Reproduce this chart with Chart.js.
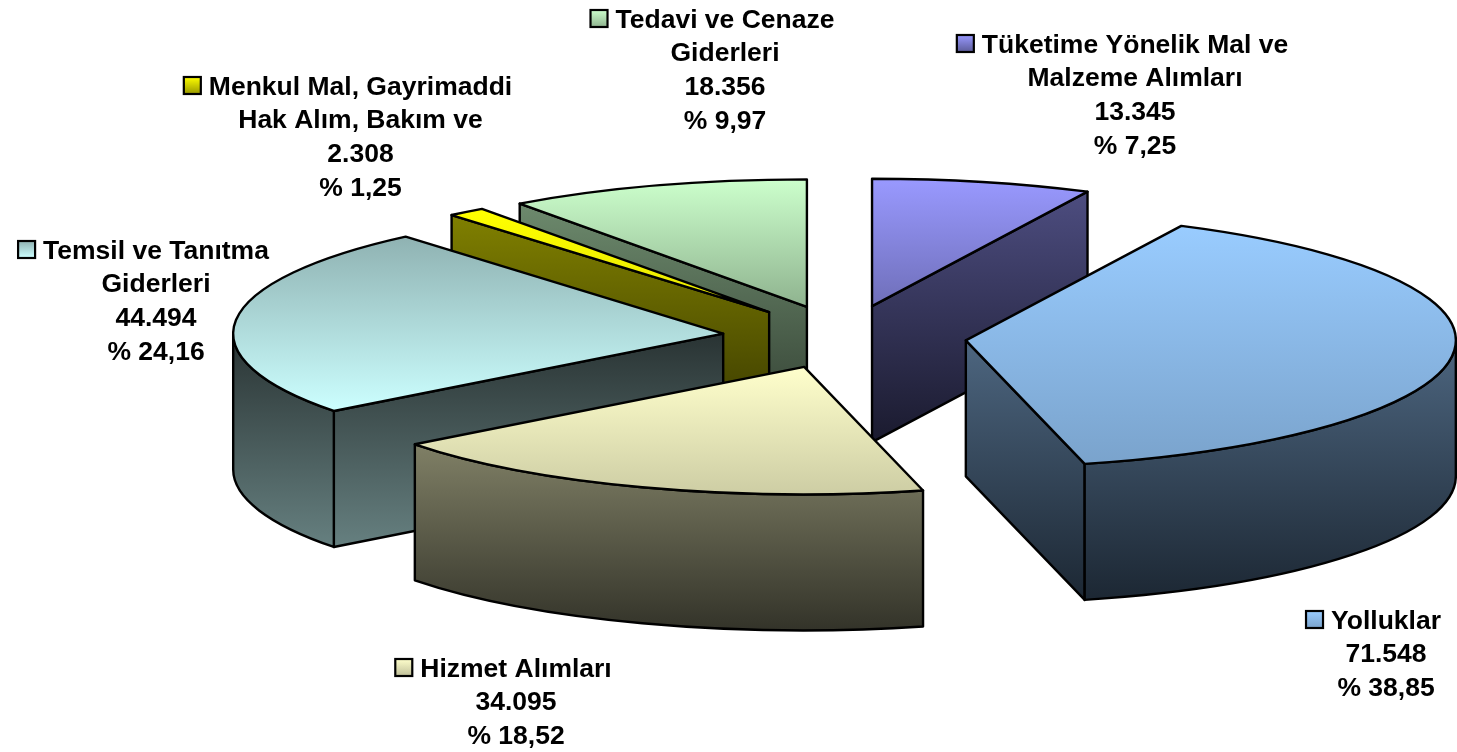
<!DOCTYPE html>
<html lang="tr">
<head>
<meta charset="utf-8">
<title>Gider dağılımı</title>
<script src="https://cdn.jsdelivr.net/npm/chart.js@4"></script>
<style>html,body{margin:0;padding:0;background:#fff}canvas{display:block}</style>
</head>
<body>
<canvas id="c" width="1457" height="752"></canvas>
<script>
// Data
const categoryLines = [
  ["Tüketime Yönelik Mal ve", "Malzeme Alımları"],
  ["Yolluklar"],
  ["Hizmet Alımları"],
  ["Temsil ve Tanıtma", "Giderleri"],
  ["Menkul Mal, Gayrimaddi", "Hak Alım, Bakım ve"],
  ["Tedavi ve Cenaze", "Giderleri"]
];
const values = [13345, 71548, 34095, 44494, 2308, 18356];
const valueLabels = ["13.345", "71.548", "34.095", "44.494", "2.308", "18.356"];
const percentLabels = ["% 7,25", "% 38,85", "% 18,52", "% 24,16", "% 1,25", "% 9,97"];

// Style and layout
const baseColors = ["#9999FF", "#99CCFF", "#FFFFCC", "#CCFFFF", "#FFFF00", "#CCFFCC"];
const topGradients = [
  ["#9999FF", "#6F6FB9"], ["#99CCFF", "#7AA3CC"], ["#FFFFCC", "#CDCDA4"],
  ["#8FB2B2", "#CCFFFF"], ["#FFFF00", "#E6E600"], ["#CCFFCC", "#8FB38F"]
];
const wallGradients = [
  ["#4D4D80", "#1A1A2E"], ["#4D6680", "#1C2733"], ["#808066", "#333329"],
  ["#293333", "#668080"], ["#808000", "#333300"], ["#6D8A6D", "#2E3A2E"]
];
const keyGradients = [
  ["#9999FF", "#5C5C99"], ["#99CCFF", "#7AA3CC"], ["#FFFFCC", "#BFBF99"],
  ["#8FB2B2", "#CCFFFF"], ["#FFFF00", "#999900"], ["#CCFFCC", "#8FB38F"]
];
const paintOrder = [5, 0, 4, 3, 1, 2];
const squash = 0.26, depth = 136, explode = 122, centerY = 337;
const pieRadius = 490;
const strokeWidth = 2.4;
const labelFont = "bold 26.5px 'Liberation Sans', Arial, sans-serif";
const labelLineHeight = 33.8;
const labelAnchors = [
  {x: 1135, y: 52.5}, {x: 1386, y: 628.5}, {x: 516, y: 676.5},
  {x: 156, y: 258.5}, {x: 360.5, y: 94.5}, {x: 725, y: 27.5}
];

function arcGeom(arc) {
  const mid = (arc.startAngle + arc.endAngle) / 2;
  return {
    a: arc.startAngle, b: arc.endAngle, r: arc.outerRadius,
    ex: Math.cos(mid) * explode,
    ey: Math.sin(mid) * explode,
    cx: arc.x + Math.cos(mid) * explode,
    cy: centerY + Math.sin(mid) * explode * squash
  };
}
function yExtent(g) {
  const ys = [g.cy, g.cy + squash * g.r * Math.sin(g.a), g.cy + squash * g.r * Math.sin(g.b)];
  [Math.PI / 2, -Math.PI / 2, Math.PI * 1.5].forEach(t => {
    if (t >= g.a && t <= g.b) ys.push(g.cy + squash * g.r * Math.sin(t));
  });
  return [Math.min(...ys), Math.max(...ys)];
}
function linear(ctx, y0, y1, stops) {
  const grad = ctx.createLinearGradient(0, y0, 0, y1);
  grad.addColorStop(0, stops[0]);
  grad.addColorStop(1, stops[1]);
  return grad;
}
function paintWall(ctx, path, fill) {
  ctx.beginPath();
  path();
  ctx.closePath();
  ctx.fillStyle = fill;
  ctx.fill();
  ctx.stroke();
}
function drawWalls(ctx, g, stops) {
  const ry = g.r * squash;
  const px = t => g.cx + g.r * Math.cos(t);
  const py = t => g.cy + ry * Math.sin(t);
  const planes = [];
  if (Math.cos(g.a) < -1e-6) planes.push(g.a);
  if (Math.cos(g.b) > 1e-6) planes.push(g.b);
  const from = Math.max(g.a, 0), to = Math.min(g.b, Math.PI);
  const ext = yExtent(g);
  const tops = planes.map(py).concat(planes.length ? [g.cy] : []);
  if (to > from) tops.push(py(from), py(to));
  const fill = linear(ctx, Math.min(...tops), ext[1] + depth, stops);
  planes.forEach(t => paintWall(ctx, () => {
    ctx.moveTo(g.cx, g.cy);
    ctx.lineTo(px(t), py(t));
    ctx.lineTo(px(t), py(t) + depth);
    ctx.lineTo(g.cx, g.cy + depth);
  }, fill));
  if (to > from) {
    paintWall(ctx, () => {
      ctx.ellipse(g.cx, g.cy, g.r, ry, 0, from, to, false);
      ctx.lineTo(px(to), py(to) + depth);
      ctx.ellipse(g.cx, g.cy + depth, g.r, ry, 0, to, from, true);
    }, fill);
  }
}
const pie3d = {
  id: 'pie3d',
  beforeDatasetDraw(chart, args) {
    const ctx = chart.ctx;
    const arcs = args.meta.data;
    paintOrder.forEach(i => {
      const arc = arcs[i];
      const g = arcGeom(arc);
      ctx.save();
      ctx.lineWidth = strokeWidth;
      ctx.strokeStyle = '#000';
      ctx.lineJoin = 'round';
      drawWalls(ctx, g, wallGradients[i]);
      const ext = yExtent(g);
      // Top face: drawn by the arc element itself, under a flattening transform
      ctx.save();
      const shiftY = centerY + g.ey * squash - squash * arc.y;
      ctx.transform(1, 0, 0, squash, g.ex, shiftY);
      const toUser = y => (y - shiftY) / squash;
      const grad = linear(ctx, toUser(ext[0]), toUser(ext[1]), topGradients[i]);
      arc.options = Object.assign({}, arc.options, {backgroundColor: grad, borderWidth: 0});
      arc.draw(ctx);
      ctx.restore();
      // Uniform outline of the flattened slice
      ctx.beginPath();
      ctx.moveTo(g.cx, g.cy);
      ctx.ellipse(g.cx, g.cy, g.r, g.r * squash, 0, g.a, g.b, false);
      ctx.closePath();
      ctx.stroke();
      ctx.restore();
    });
    return false;
  },
  afterDraw(chart) {
    const ctx = chart.ctx;
    ctx.save();
    ctx.font = labelFont;
    ctx.fillStyle = '#000';
    ctx.textBaseline = 'alphabetic';
    ctx.textAlign = 'left';
    categoryLines.forEach((lines, i) => {
      const anchor = labelAnchors[i];
      const rows = lines.concat(valueLabels[i], percentLabels[i]);
      rows.forEach((row, r) => {
        const y = anchor.y + r * labelLineHeight;
        const w = ctx.measureText(row).width;
        const x = anchor.x - w / 2;
        if (r === 0) {
          const keySize = 17, left = x - 25, top = y - 17.5;
          ctx.fillStyle = linear(ctx, top, top + keySize, keyGradients[i]);
          ctx.fillRect(left, top, keySize, keySize);
          ctx.lineWidth = 2.2;
          ctx.strokeStyle = '#000';
          ctx.strokeRect(left, top, keySize, keySize);
          ctx.fillStyle = '#000';
        }
        ctx.fillText(row, x, y);
      });
    });
    ctx.restore();
  }
};
new Chart(document.getElementById('c'), {
  type: 'pie',
  data: {
    labels: categoryLines.map(l => l.join(' ')),
    datasets: [{data: values, backgroundColor: baseColors, borderWidth: 0, clip: false}]
  },
  options: {
    responsive: false,
    animation: false,
    events: [],
    radius: pieRadius,
    layout: {padding: {left: 232}},
    plugins: {legend: {display: false}, tooltip: {enabled: false}, title: {display: false}}
  },
  plugins: [pie3d]
});
</script>
</body>
</html>
